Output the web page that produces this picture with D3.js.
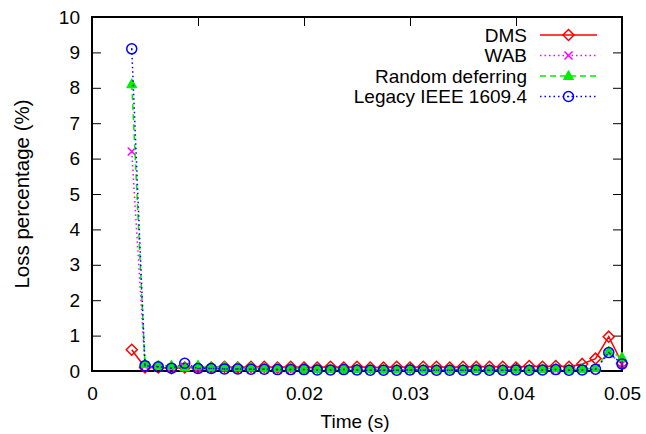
<!DOCTYPE html>
<html><head><meta charset="utf-8">
<script src="https://cdn.jsdelivr.net/npm/d3@7"></script>
<style>body{margin:0;background:#fff}svg{display:block}text{font-family:"Liberation Sans",Arial,sans-serif;fill:#000}</style>
</head><body><div id="chart"></div>
<script>
const times = d3.range(38).map(k => 0.00375 + 0.00125 * k);
const seriesNames = ["DMS", "WAB", "Random deferring", "Legacy IEEE 1609.4"];
const dms = [0.6,0.1,0.1,0.08,0.1,0.1,0.1,0.12,0.1,0.12,0.12,0.1,0.12,0.1,0.1,0.12,0.1,0.12,0.1,0.1,0.12,0.1,0.12,0.12,0.1,0.12,0.12,0.12,0.12,0.1,0.14,0.12,0.14,0.12,0.2,0.35,0.97,0.22];
const wab = [6.2,0.15,0.1,0.08,0.12,0.06,0.06,0.05,0.05,0.04,0.04,0.04,0.03,0.03,0.03,0.02,0.03,0.02,0.02,0.02,0.02,0.02,0.02,0.02,0.02,0.02,0.02,0.02,0.02,0.02,0.02,0.03,0.03,0.02,0.03,0.05,0.5,0.2];
const randomDef = [8.1,0.2,0.15,0.15,0.1,0.15,0.1,0.12,0.1,0.1,0.08,0.08,0.08,0.06,0.06,0.05,0.06,0.05,0.05,0.04,0.04,0.05,0.04,0.04,0.04,0.04,0.05,0.04,0.04,0.04,0.04,0.05,0.08,0.04,0.06,0.08,0.55,0.38];
const legacy = [9.1,0.15,0.12,0.08,0.22,0.07,0.07,0.06,0.06,0.05,0.05,0.04,0.04,0.04,0.03,0.03,0.04,0.03,0.02,0.02,0.02,0.03,0.02,0.02,0.02,0.02,0.03,0.02,0.02,0.03,0.02,0.03,0.04,0.02,0.03,0.05,0.52,0.2];
const xTicks = [0, 0.01, 0.02, 0.03, 0.04, 0.05];
const xTickLabels = ["0", "0.01", "0.02", "0.03", "0.04", "0.05"];
const yTicks = [0,1,2,3,4,5,6,7,8,9,10];

const W = 646, H = 434;
const L = 92, R = 622, T = 17, B = 371;
const x = d3.scaleLinear().domain([0, 0.05]).range([L, R]);
const y = d3.scaleLinear().domain([0, 10]).range([B, T]);

const svg = d3.select("#chart").append("svg").attr("width", W).attr("height", H);

const tickLen = 9;
const axG = svg.append("g");
axG.append("g").attr("transform", `translate(0,${B})`)
  .call(d3.axisBottom(x).tickValues(xTicks).tickFormat((d,i)=>xTickLabels[i]).tickSizeInner(-tickLen).tickSizeOuter(0).tickPadding(16))
  .call(g => g.select(".domain").remove())
  .call(g => g.selectAll("line").attr("stroke","#000").attr("stroke-width",1))
  .call(g => g.selectAll("text").style("font-size","19px").attr("fill","#000"));
axG.append("g").attr("transform", `translate(0,${T})`)
  .call(d3.axisTop(x).tickValues(xTicks).tickFormat("").tickSizeInner(-tickLen).tickSizeOuter(0))
  .call(g => g.select(".domain").remove())
  .call(g => g.selectAll("line").attr("stroke","#000"));
axG.append("g").attr("transform", `translate(${L},0)`)
  .call(d3.axisLeft(y).tickValues(yTicks).tickFormat(d3.format("d")).tickSizeInner(-tickLen).tickSizeOuter(0).tickPadding(12))
  .call(g => g.select(".domain").remove())
  .call(g => g.selectAll("line").attr("stroke","#000"))
  .call(g => g.selectAll("text").style("font-size","19px").attr("fill","#000"));
axG.append("g").attr("transform", `translate(${R},0)`)
  .call(d3.axisRight(y).tickValues(yTicks).tickFormat("").tickSizeInner(-tickLen).tickSizeOuter(0))
  .call(g => g.select(".domain").remove())
  .call(g => g.selectAll("line").attr("stroke","#000"));

svg.append("rect").attr("x", L).attr("y", T).attr("width", R-L).attr("height", B-T)
  .attr("fill","none").attr("stroke","#000").attr("stroke-width",2);

svg.append("text").attr("x", (L+R)/2 - 2).attr("y", 428).attr("text-anchor","middle").style("font-size","19px").text("Time (s)");
svg.append("text").attr("transform", `translate(29,${(T+B)/2}) rotate(-90)`).attr("text-anchor","middle").style("font-size","20.5px").text("Loss percentage (%)");

const series = [
  {name: seriesNames[0], vals: dms, color: "#ff0000", dash: null, marker: "diamond"},
  {name: seriesNames[1], vals: wab, color: "#ff00ff", dash: "1.5,3", marker: "cross"},
  {name: seriesNames[2], vals: randomDef, color: "#00ee00", dash: "6,4", marker: "triangle"},
  {name: seriesNames[3], vals: legacy, color: "#0000ff", dash: "1.5,3", marker: "circle"}
];

function drawMarker(g, type, cx, cy, color) {
  if (type === "diamond") {
    g.append("path").attr("d", `M${cx},${cy-5.5}L${cx+5.5},${cy}L${cx},${cy+5.5}L${cx-5.5},${cy}Z`)
      .attr("fill","none").attr("stroke",color).attr("stroke-width",1.5);
  } else if (type === "cross") {
    g.append("path").attr("d", `M${cx-4},${cy-4}L${cx+4},${cy+4}M${cx-4},${cy+4}L${cx+4},${cy-4}`)
      .attr("fill","none").attr("stroke",color).attr("stroke-width",1.5);
  } else if (type === "triangle") {
    g.append("path").attr("d", `M${cx},${cy-5.5}L${cx+5},${cy+3.5}L${cx-5},${cy+3.5}Z`)
      .attr("fill",color).attr("stroke",color).attr("stroke-width",1);
  } else if (type === "circle") {
    g.append("circle").attr("cx",cx).attr("cy",cy).attr("r",5)
      .attr("fill","none").attr("stroke",color).attr("stroke-width",1.5);
    g.append("circle").attr("cx",cx).attr("cy",cy).attr("r",0.8).attr("fill",color);
  }
}

const line = d3.line().x((d,i)=>x(times[i])).y(d=>y(d));
const plotG = svg.append("g");
series.forEach(s => {
  const g = plotG.append("g");
  g.append("path").datum(s.vals).attr("d", line).attr("fill","none")
    .attr("stroke", s.color).attr("stroke-width", 1.5)
    .attr("stroke-dasharray", s.dash);
  s.vals.forEach((v,i) => drawMarker(g, s.marker, x(times[i]), y(v), s.color));
});

const legY = [35, 55.5, 76, 96.5];
const lg = svg.append("g");
series.forEach((s,i) => {
  const yy = legY[i];
  lg.append("text").attr("x", 527).attr("y", yy + 6.5).attr("text-anchor","end").style("font-size","19px").text(s.name);
  lg.append("line").attr("x1", 540).attr("x2", 597).attr("y1", yy).attr("y2", yy)
    .attr("stroke", s.color).attr("stroke-width",1.5).attr("stroke-dasharray", s.dash);
  drawMarker(lg, s.marker, 568.5, yy, s.color);
});
</script></body></html>
